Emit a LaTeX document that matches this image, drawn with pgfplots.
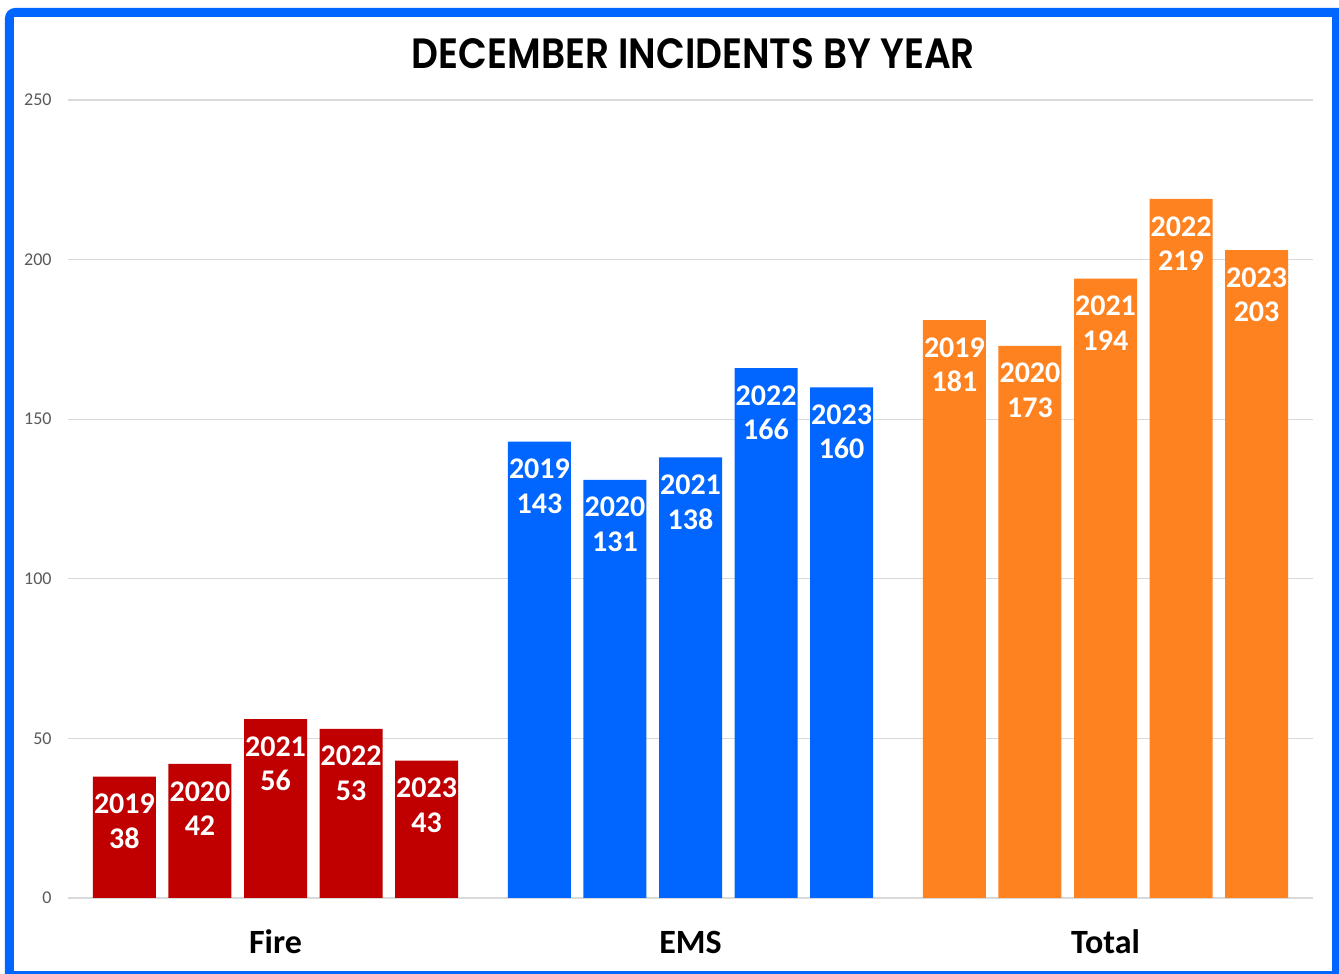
\documentclass[border=0pt]{standalone}
\usepackage{pgfplots}
\usepackage{pgfplotstable}
\usepackage{graphicx}
\pgfplotsset{compat=1.18}
\usepackage{fontspec}
\setmainfont{Carlito}
\newfontfamily\titlefont{Poppins}[UprightFont=* SemiBold]
\definecolor{firered}{HTML}{C00000}
\definecolor{emsblue}{HTML}{0066FF}
\definecolor{totorange}{HTML}{FF8221}
\definecolor{tickgray}{HTML}{595959}
\definecolor{gridgray}{HTML}{D9D9D9}

\pgfplotstableread{
x y yr
-0.364 38 2019
-0.182 42 2020
0 56 2021
0.182 53 2022
0.364 43 2023
}\firedata
\pgfplotstableread{
x y yr
0.636 143 2019
0.818 131 2020
1 138 2021
1.182 166 2022
1.364 160 2023
}\emsdata
\pgfplotstableread{
x y yr
1.636 181 2019
1.818 173 2020
2 194 2021
2.182 219 2022
2.364 203 2023
}\totaldata

\begin{document}
\begin{tikzpicture}
\useasboundingbox (-34pt,-38pt) rectangle (635.5pt,449pt);
\fill[white] (-34pt,-38pt) rectangle (635.5pt,449pt);
\begin{scope}
\clip (-34pt,-38pt) rectangle (635.5pt,449pt);
\fill[emsblue, rounded corners=5pt] (-31.5pt,-45pt) rectangle (645pt,445pt);
\end{scope}
\fill[white] (-27pt,-36.75pt) rectangle (632pt,440.5pt);
\begin{axis}[
  at={(0,0)}, anchor=south west,
  scale only axis, width=622.5pt, height=399pt,
  xmin=-0.5, xmax=2.5, ymin=0, ymax=250,
  axis line style={draw=none}, major tick length=0pt,
  ytick={0,50,...,250}, ymajorgrids,
  grid style={gridgray, line width=0.6pt},
  xtick={0,1,2}, xticklabels={Fire,EMS,Total},
  xticklabel style={font=\fontsize{17}{20}\selectfont\bfseries, anchor=base, yshift=-28pt, inner sep=0pt},
  yticklabel style={font=\fontsize{9}{11}\selectfont, text=tickgray, anchor=east, inner sep=0pt, xshift=-8pt},
  /pgf/number format/assume math mode=true,
  ybar, bar width=31.5pt,
  point meta=explicit symbolic,
  visualization depends on=y \as \yval,
  nodes near coords={\pgfplotspointmeta\\\pgfmathprintnumber{\yval}},
  nodes near coords style={anchor=north, text=white, font=\fontsize{15}{17.25}\selectfont\bfseries, align=center, inner sep=0pt, yshift=-8.5pt},
  title={\resizebox{281.5pt}{15pt}{\titlefont DECEMBER INCIDENTS BY YEAR}},
  title style={at={(0.5,1)}, anchor=south, inner sep=0pt, yshift=9.5pt, xshift=1.5pt},
  clip=false,
]
\addplot[fill=firered, draw=none, bar shift=0pt] table[x=x,y=y,meta=yr] {\firedata};
\addplot[fill=emsblue, draw=none, bar shift=0pt] table[x=x,y=y,meta=yr] {\emsdata};
\addplot[fill=totorange, draw=none, bar shift=0pt] table[x=x,y=y,meta=yr] {\totaldata};
\end{axis}
\end{tikzpicture}
\end{document}
